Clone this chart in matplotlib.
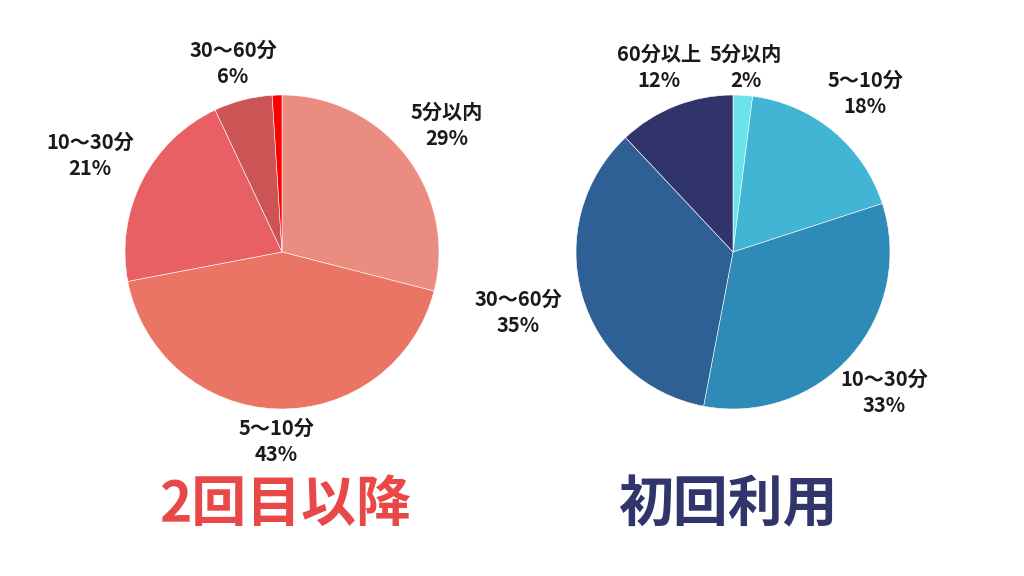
import matplotlib
matplotlib.use('Agg')
import matplotlib.pyplot as plt

plt.rcParams['font.family'] = ['Noto Sans CJK JP', 'DejaVu Sans']

# data
categories = ['5分以内', '5〜10分', '10〜30分', '30〜60分', '60分以上']
repeat_values = [29, 43, 21, 6, 1]
first_values = [2, 18, 33, 35, 12]

repeat_colors = ['#EB8C80', '#EA7564', '#E86063', '#CC5454', '#FF0000']
first_colors = ['#6AE4E8', '#42B5D5', '#2E8BB8', '#2E5F95', '#31346B']

# label positions in pixels (x, y from top), None = no label
repeat_label_pos = [(447, 125), (276, 441), (90, 155), (233, 63), None]
first_label_pos = [(746, 67), (865, 93), (884, 392), (518, 312), (659, 67)]

W, H = 1024, 576
R = 157

fig = plt.figure(figsize=(W / 100, H / 100), dpi=100)


def draw_pie(cx, cy, values, colors, label_pos, title, title_color, title_x):
    ax = fig.add_axes([(cx - R) / W, (H - cy - R) / H, 2 * R / W, 2 * R / H])
    ax.pie(values, colors=colors, startangle=90, counterclock=False,
           radius=1, wedgeprops=dict(edgecolor='white', linewidth=0.4))
    ax.set_xlim(-1, 1)
    ax.set_ylim(-1, 1)
    ax.set_aspect('equal')
    ax.axis('off')
    for cat, val, pos in zip(categories, values, label_pos):
        if pos is None:
            continue
        fig.text(pos[0] / W, 1 - pos[1] / H, f'{cat}\n{val}%', ha='center', va='center',
                 fontsize=14.5, fontweight='bold', color='#1a1a1a', linespacing=1.3)
    fig.text(title_x / W, 1 - 505 / H, title, ha='center', va='center',
             fontsize=39.5, fontweight='bold', color=title_color)


draw_pie(282, 252, repeat_values, repeat_colors, repeat_label_pos, '2回目以降', '#E84848', 285)
draw_pie(733, 252, first_values, first_colors, first_label_pos, '初回利用', '#30356B', 728)

fig.savefig('out.png', dpi=100)
